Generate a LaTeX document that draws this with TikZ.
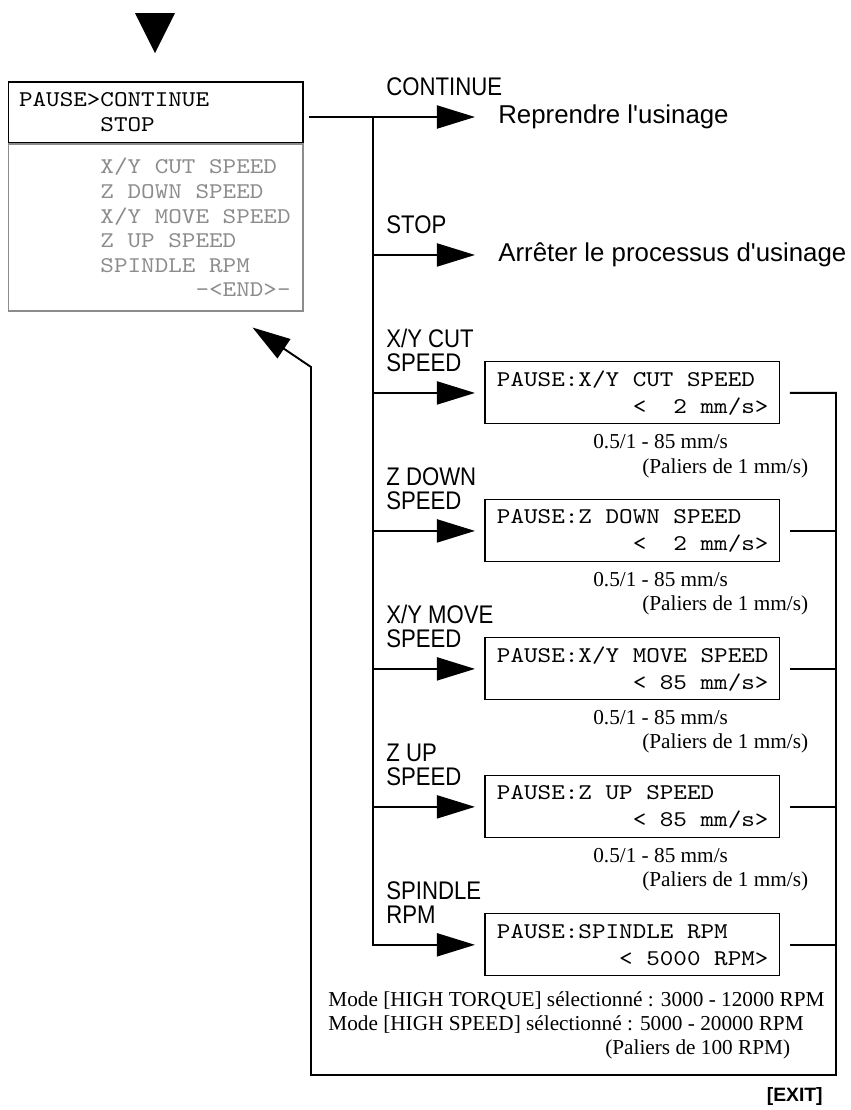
\documentclass[tikz,border=0pt]{standalone}
\usepackage{fontspec}
\setmainfont{Liberation Serif}
\newfontfamily\labelfont{Liberation Sans}[FakeStretch=0.87]
\newfontfamily\descfont{Liberation Sans}
\newfontfamily\lcdfont{lmmono10-regular.otf}[FakeStretch=1.15]
\newcommand\lcdgap[1]{\hspace*{#1\fontcharwd\font`0}}
\usepackage{tikz}
\usetikzlibrary{positioning, arrows.meta}
\definecolor{lcdgray}{gray}{0.55}

\begin{document}
\begin{tikzpicture}[
        x=0.02cm, y=-0.02cm,
        every node/.style={
            inner sep=0pt
        },
        menu/.style={
            rectangle,
            draw,
            line width=0.6pt,
            text width=5.46cm,
            inner xsep=0.22cm,
            minimum height=1.22cm,
            align=left,
            font=\lcdfont\fontsize{12.8}{14.2}\selectfont
        },
        menulist/.style={
            menu,
            draw=lcdgray,
            text=lcdgray,
            minimum height=3.34cm,
            font=\lcdfont\fontsize{12.8}{14}\selectfont
        },
        lcd/.style={
            rectangle,
            draw,
            line width=0.6pt,
            text width=5.42cm,
            inner xsep=0.24cm,
            outer xsep=0.2cm,
            minimum height=1.24cm,
            align=left,
            font=\lcdfont\fontsize{12.8}{15.4}\selectfont
        },
        desc/.style={
            inner xsep=0.46cm,
            font=\descfont\fontsize{14.7}{17}\selectfont
        },
        branch/.style={
            align=left,
            font=\labelfont\fontsize{14.5}{13.7}\selectfont
        },
        note/.style={
            align=left,
            font=\fontsize{12.1}{13.7}\selectfont
        },
        exitlabel/.style={
            font=\descfont\bfseries\fontsize{11}{13}\selectfont
        },
        line/.style={
            line width=1.1pt
        },
        arrow/.style={
            line,
            -{Triangle[length=0.76cm, width=0.46cm]}
        }
    ]

    \useasboundingbox (0,0) rectangle (851,1110);

    % Menu de pause

    \fill (135,13) -- (175,13) -- (155,53) -- cycle;

    \node[menulist] (menulist) at (155.5,227.5)
    {\lcdgap{6}X/Y\lcdgap{1}CUT\lcdgap{1}SPEED\\
    \lcdgap{6}Z\lcdgap{1}DOWN\lcdgap{1}SPEED\\
    \lcdgap{6}X/Y\lcdgap{1}MOVE\lcdgap{1}SPEED\\
    \lcdgap{6}Z\lcdgap{1}UP\lcdgap{1}SPEED\\
    \lcdgap{6}SPINDLE\lcdgap{1}RPM\\
    \lcdgap{13}-<END>-};

    \node[menu, above=0cm of menulist] (menu)
    {PAUSE>CONTINUE\\
    \lcdgap{6}STOP};

    % Choix

    \coordinate (fork) at (373,117);

    \node[desc, right=2.04cm of fork] (resume)
    {Reprendre l'usinage};

    \node[desc, below=2.76cm of resume.west, anchor=west] (halt)
    {Arrêter le processus d'usinage};

    \node[lcd, below=2.76cm of halt.west, anchor=west] (xycut)
    {PAUSE:X/Y\lcdgap{1}CUT\lcdgap{1}SPEED\\
    \lcdgap{10}<\lcdgap{2}2\lcdgap{1}mm/s>};

    \node[lcd, below=2.76cm of xycut.west, anchor=west] (zdown)
    {PAUSE:Z\lcdgap{1}DOWN\lcdgap{1}SPEED\\
    \lcdgap{10}<\lcdgap{2}2\lcdgap{1}mm/s>};

    \node[lcd, below=2.76cm of zdown.west, anchor=west] (xymove)
    {PAUSE:X/Y\lcdgap{1}MOVE\lcdgap{1}SPEED\\
    \lcdgap{10}<\lcdgap{1}85\lcdgap{1}mm/s>};

    \node[lcd, below=2.76cm of xymove.west, anchor=west] (zup)
    {PAUSE:Z\lcdgap{1}UP\lcdgap{1}SPEED\\
    \lcdgap{10}<\lcdgap{1}85\lcdgap{1}mm/s>};

    \node[lcd, below=2.76cm of zup.west, anchor=west] (spindle)
    {PAUSE:SPINDLE\lcdgap{1}RPM\\
    \lcdgap{9}<\lcdgap{1}5000\lcdgap{1}RPM>};

    % Libellés des branches

    \node[branch, anchor=south west] (lcontinue)
    at ([xshift=-1.78cm, yshift=0.42cm]resume.west) {CONTINUE};
    \node[branch, anchor=south west] (lstop)
    at ([xshift=-1.78cm, yshift=0.42cm]halt.west) {STOP};
    \node[branch, anchor=south west] (lxycut)
    at ([xshift=-1.78cm, yshift=0.42cm]xycut.west) {X/Y CUT\\SPEED};
    \node[branch, anchor=south west] (lzdown)
    at ([xshift=-1.78cm, yshift=0.42cm]zdown.west) {Z DOWN\\SPEED};
    \node[branch, anchor=south west] (lxymove)
    at ([xshift=-1.78cm, yshift=0.42cm]xymove.west) {X/Y MOVE\\SPEED};
    \node[branch, anchor=south west] (lzup)
    at ([xshift=-1.78cm, yshift=0.42cm]zup.west) {Z UP\\SPEED};
    \node[branch, anchor=south west] (lspindle)
    at ([xshift=-1.78cm, yshift=0.42cm]spindle.west) {SPINDLE\\RPM};

    % Plages de réglage

    \node[note, below right=0.83cm and 2.36cm of xycut.west] (nxycut)
    {0.5/1 - 85 mm/s\\\hspace*{0.98cm}(Paliers de 1 mm/s)};
    \node[note, below right=0.83cm and 2.36cm of zdown.west] (nzdown)
    {0.5/1 - 85 mm/s\\\hspace*{0.98cm}(Paliers de 1 mm/s)};
    \node[note, below right=0.83cm and 2.36cm of xymove.west] (nxymove)
    {0.5/1 - 85 mm/s\\\hspace*{0.98cm}(Paliers de 1 mm/s)};
    \node[note, below right=0.83cm and 2.36cm of zup.west] (nzup)
    {0.5/1 - 85 mm/s\\\hspace*{0.98cm}(Paliers de 1 mm/s)};

    \node[note, anchor=north west] (nspindle)
    at ([xshift=-2.94cm, yshift=-0.93cm]spindle.west)
    {Mode [HIGH TORQUE] sélectionné : 3000 - 12000 RPM\\
    Mode [HIGH SPEED] sélectionné : 5000 - 20000 RPM\\
    \hspace*{5.54cm}(Paliers de 100 RPM)};

    % Flèches

    \draw[line, shorten <=0.12cm] (menu.east |- fork) -- (fork);
    \draw[arrow] (fork) -- (resume.west);
    \draw[arrow] (fork |- halt.west) -- (halt.west);
    \draw[arrow] (fork |- xycut.west) -- (xycut.west);
    \draw[arrow] (fork |- zdown.west) -- (zdown.west);
    \draw[arrow] (fork |- xymove.west) -- (xymove.west);
    \draw[arrow] (fork |- zup.west) -- (zup.west);
    \draw[arrow] (fork) |- (spindle.west);

    % Retour au menu

    \coordinate (loopcorner) at (836,1075);
    \coordinate (loopturn) at (311,367);
    \coordinate (reentry) at ([xshift=-1.02cm, yshift=-0.32cm]menulist.south east);

    \draw[line] (zdown.east) -- (zdown.east -| loopcorner);
    \draw[line] (xymove.east) -- (xymove.east -| loopcorner);
    \draw[line] (zup.east) -- (zup.east -| loopcorner);
    \draw[line] (spindle.east) -- (spindle.east -| loopcorner);
    \draw[arrow] (xycut.east) -- (xycut.east -| loopcorner) -- (loopcorner)
        -| (loopturn) -- (reentry);

    \node[exitlabel, below left=0.24cm and 0.26cm of loopcorner] (exit) {[EXIT]};

\end{tikzpicture}
\end{document}
